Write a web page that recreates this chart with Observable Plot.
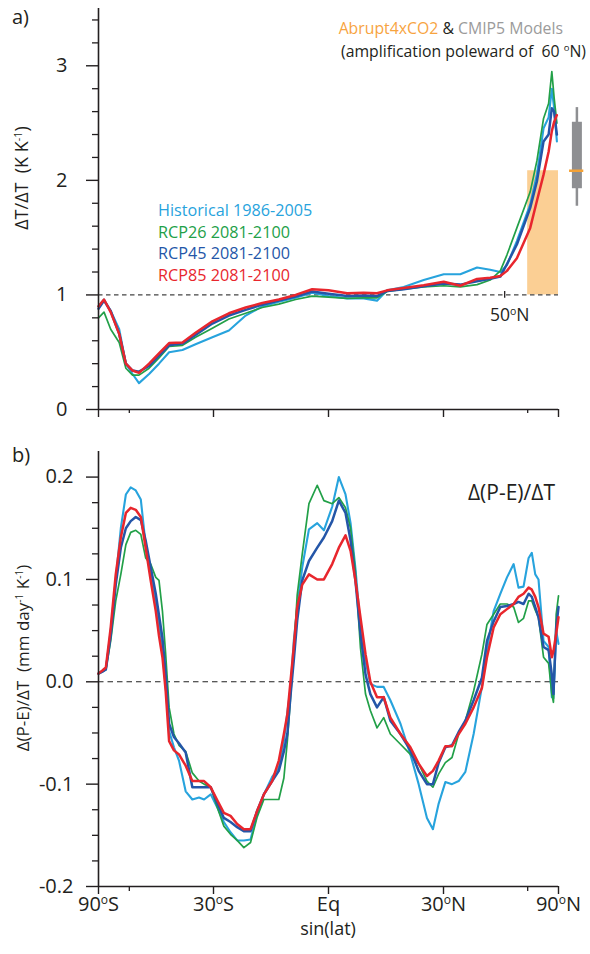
<!DOCTYPE html>
<html><head><meta charset="utf-8">
<script src="https://cdn.jsdelivr.net/npm/d3@7"></script>
<script src="https://cdn.jsdelivr.net/npm/@observablehq/plot@0.6"></script>
<style>
html,body{margin:0;padding:0;background:#fff}
body{width:590px;height:954px;overflow:hidden;position:relative;font-family:"Open Sans",sans-serif}
#a{position:absolute;left:0;top:0}
#b{position:absolute;left:0;top:430px}
</style></head><body>
<div id="a"></div><div id="b"></div>
<script>
// ---------- Panel a: ΔT/ΔT vs sin(lat) ----------
const latA = [-1.0,-0.976,-0.947,-0.91,-0.881,-0.852,-0.824,-0.78,-0.737,-0.693,-0.635,-0.578,-0.505,-0.433,-0.36,-0.288,-0.216,-0.143,-0.071,0.0,0.081,0.153,0.211,0.255,0.327,0.414,0.501,0.573,0.646,0.703,0.747,0.776,0.819,0.877,0.906,0.935,0.957,0.971,0.981,0.993];
const histA  = [0.90,0.96,0.86,0.70,0.40,0.31,0.23,0.31,0.40,0.50,0.52,0.57,0.63,0.69,0.82,0.90,0.94,0.975,1.02,0.99,0.97,0.97,0.95,1.04,1.07,1.13,1.18,1.18,1.24,1.22,1.20,1.26,1.47,1.79,2.05,2.455,2.55,2.80,2.63,2.34];
const rcp26A = [0.80,0.85,0.70,0.585,0.36,0.30,0.30,0.36,0.45,0.55,0.56,0.63,0.71,0.79,0.84,0.89,0.92,0.96,0.99,0.98,0.97,0.975,0.975,1.03,1.05,1.07,1.08,1.07,1.09,1.13,1.21,1.35,1.585,1.90,2.17,2.54,2.67,2.95,2.72,2.50];
const rcp45A = [0.88,0.95,0.86,0.66,0.40,0.34,0.33,0.38,0.47,0.56,0.575,0.65,0.75,0.82,0.87,0.915,0.95,0.985,1.03,1.01,0.99,0.995,0.99,1.035,1.05,1.075,1.10,1.09,1.12,1.14,1.16,1.27,1.44,1.76,1.99,2.34,2.40,2.63,2.60,2.40];
const rcp85A = [0.90,0.96,0.85,0.66,0.40,0.34,0.32,0.40,0.49,0.58,0.585,0.67,0.77,0.84,0.89,0.93,0.96,1.00,1.05,1.04,1.015,1.02,1.015,1.04,1.06,1.085,1.115,1.08,1.14,1.15,1.165,1.21,1.32,1.585,1.82,2.05,2.25,2.43,2.51,2.57];

// Arctic amplification poleward of 60N (sin60 .. sin90)
const amplifLat = [0.866, 1.0];
const abrupt4xCO2 = [2.084];
// CMIP5 models: whisker low, q1, median, q3, whisker high
const cmip5Stats = [1.774, 1.927, 2.084, 2.507, 2.635];
const cmip5Pos = [1.08];
const lat50N = [0.766];

// ---------- Panel b: Δ(P-E)/ΔT vs sin(lat) ----------
const latB = [-1.0,-0.983,-0.968,-0.947,-0.925,-0.903,-0.881,-0.86,-0.838,-0.816,-0.795,-0.773,-0.751,-0.737,-0.722,-0.708,-0.693,-0.672,-0.65,-0.621,-0.592,-0.563,-0.541,-0.512,-0.483,-0.455,-0.426,-0.397,-0.368,-0.339,-0.31,-0.281,-0.245,-0.216,-0.194,-0.179,-0.165,-0.151,-0.136,-0.114,-0.085,-0.049,-0.02,0.016,0.045,0.074,0.096,0.117,0.139,0.161,0.182,0.211,0.24,0.269,0.313,0.356,0.392,0.428,0.454,0.479,0.508,0.537,0.566,0.595,0.631,0.667,0.689,0.718,0.747,0.776,0.805,0.826,0.848,0.87,0.884,0.899,0.913,0.935,0.957,0.971,0.978,0.99,1.0];
const histB  = [0.008,0.010,0.012,0.050,0.100,0.150,0.183,0.190,0.187,0.178,0.134,0.105,0.076,0.055,0.030,-0.005,-0.048,-0.064,-0.077,-0.107,-0.115,-0.113,-0.115,-0.110,-0.123,-0.137,-0.147,-0.155,-0.155,-0.154,-0.129,-0.110,-0.093,-0.084,-0.058,-0.030,-0.006,0.040,0.073,0.112,0.149,0.155,0.148,0.171,0.200,0.183,0.155,0.111,0.054,0.020,-0.002,-0.005,-0.005,-0.018,-0.041,-0.071,-0.100,-0.133,-0.144,-0.119,-0.098,-0.100,-0.097,-0.088,-0.051,-0.005,0.031,0.069,0.086,0.102,0.115,0.092,0.093,0.121,0.126,0.105,0.100,0.040,0.034,-0.015,-0.016,0.050,0.037];
const rcp26B = [0.008,0.010,0.012,0.040,0.079,0.105,0.134,0.146,0.148,0.144,0.121,0.115,0.102,0.099,0.069,0.027,-0.025,-0.051,-0.062,-0.068,-0.089,-0.097,-0.100,-0.103,-0.123,-0.141,-0.149,-0.155,-0.162,-0.157,-0.132,-0.115,-0.115,-0.115,-0.094,-0.058,-0.015,0.030,0.085,0.125,0.174,0.192,0.177,0.174,0.180,0.170,0.150,0.108,0.033,-0.012,-0.028,-0.045,-0.035,-0.051,-0.061,-0.071,-0.080,-0.097,-0.103,-0.090,-0.079,-0.074,-0.051,-0.038,-0.009,0.027,0.056,0.066,0.076,0.076,0.073,0.058,0.062,0.079,0.079,0.070,0.063,0.024,0.018,-0.012,-0.020,0.066,0.084];
const rcp45B = [0.008,0.010,0.012,0.045,0.095,0.131,0.150,0.157,0.161,0.158,0.138,0.112,0.086,0.065,0.043,0.008,-0.041,-0.054,-0.060,-0.069,-0.103,-0.103,-0.103,-0.103,-0.119,-0.133,-0.137,-0.142,-0.146,-0.146,-0.126,-0.110,-0.097,-0.087,-0.068,-0.051,-0.013,0.021,0.060,0.099,0.118,0.131,0.141,0.157,0.177,0.165,0.138,0.099,0.047,0.007,-0.012,-0.025,-0.015,-0.038,-0.051,-0.067,-0.087,-0.100,-0.100,-0.079,-0.064,-0.062,-0.049,-0.038,-0.018,0.004,0.040,0.059,0.073,0.074,0.076,0.078,0.076,0.086,0.083,0.073,0.063,0.034,0.031,0.007,-0.012,0.053,0.073];
const rcp85B = [0.008,0.011,0.014,0.053,0.105,0.141,0.165,0.170,0.168,0.161,0.131,0.099,0.069,0.045,0.024,-0.009,-0.058,-0.067,-0.071,-0.082,-0.097,-0.097,-0.097,-0.103,-0.116,-0.128,-0.131,-0.139,-0.144,-0.144,-0.126,-0.110,-0.097,-0.077,-0.051,-0.032,0.001,0.034,0.073,0.095,0.105,0.100,0.100,0.115,0.131,0.143,0.128,0.099,0.063,0.027,0.000,-0.015,-0.015,-0.035,-0.051,-0.064,-0.080,-0.092,-0.087,-0.077,-0.063,-0.063,-0.051,-0.041,-0.025,-0.006,0.024,0.053,0.066,0.071,0.076,0.083,0.086,0.092,0.090,0.083,0.073,0.047,0.044,0.024,0.030,0.047,0.063];

const seriesNames = ["Historical 1986-2005","RCP26 2081-2100","RCP45 2081-2100","RCP85 2081-2100"];
const xTickValues = [-1,-0.5,0,0.5,1];
const xTickLabels = ["90ºS","30ºS","Eq","30ºN","90ºN"];
const xMinorTicks = [-0.866,0.866];
const yTicksA = [0,1,2,3];
const yTickLabelsA = ["0","1","2","3"];
const yTicksB = [-0.2,-0.1,0,0.1,0.2];
const yTickLabelsB = ["-0.2","-0.1","0.0","0.1","0.2"];

// ---------- styles ----------
const colors = ["#27a3dd","#22a048","#2456a8","#e8262d"];
const widths = [2.1,1.7,2.5,2.5];
const drawOrder = [0,1,2,3];
const axisColor = "#231f20";
const FONT = '"Open Sans", sans-serif';
const minorA = d3.range(1,18).map(i=>i*0.2).filter(v=>Math.abs(v-Math.round(v))>1e-6);
const minorB = d3.range(-7,8).map(i=>i*0.025).filter(v=>Math.abs(v*10-Math.round(v*10))>1e-6);

function rows(lat, arr){ return arr.map((v,j)=>({lat:lat[j], v})); }
function lines(lat, arrs){
  return drawOrder.map(i=>Plot.line(rows(lat, arrs[i]), {x:"lat", y:"v", stroke:colors[i], strokeWidth:widths[i], strokeLinejoin:"round", strokeLinecap:"round"}));
}
function supO(svg, dyPx){
  d3.select(svg).selectAll("text").each(function(){
    const t=this.textContent; if(!t.includes("º")) return;
    const [a,b]=t.split("º"); const s=d3.select(this); s.text(null);
    s.append("tspan").text(a);
    s.append("tspan").attr("dy",-dyPx).attr("font-size","0.6em").text("o");
    s.append("tspan").attr("dy",dyPx).text(b);
  });
}
function addText(svg, x, y, parts, opts={}){
  const t=d3.select(svg).append("text").attr("x",x).attr("y",y)
    .attr("font-family",FONT).attr("font-size",opts.size||16).attr("fill",opts.fill||axisColor)
    .attr("text-anchor",opts.anchor||"start");
  if(opts.rotate) t.attr("transform",`rotate(${opts.rotate},${x},${y})`);
  parts.forEach(p=>{
    const sp=t.append("tspan").text(p.text);
    if(p.fill) sp.attr("fill",p.fill);
    if(p.sup){ sp.attr("font-size","0.6em").attr("dy",-p.sup); }
    if(p.unsup){ sp.attr("dy",p.unsup); }
  });
  return t;
}

// ---------- Panel a ----------
const plotA = Plot.plot({
  width:590, height:430, marginLeft:98, marginRight:32, marginTop:8, marginBottom:21,
  style:{fontFamily:FONT, fontSize:"20px", color:axisColor, background:"#fff"},
  x:{domain:[-1,1]}, y:{domain:[0,3.5]},
  marks:[
    Plot.rect(abrupt4xCO2, {x1:amplifLat[0], x2:amplifLat[1], y1:1, y2:d=>d, fill:"#fbcf94"}),
    Plot.ruleY([1], {x1:-1, x2:1, stroke:"#444", strokeWidth:1.2, strokeDasharray:"4.5,3.5"}),
    ...lines(latA,[histA,rcp26A,rcp45A,rcp85A]),
    Plot.ruleX(cmip5Pos, {y1:cmip5Stats[0], y2:cmip5Stats[4], stroke:"#8e8f92", strokeWidth:2.5}),
    Plot.ruleX(cmip5Pos, {y1:cmip5Stats[1], y2:cmip5Stats[3], stroke:"#8e8f92", strokeWidth:10}),
    Plot.ruleY([cmip5Stats[2]], {x1:cmip5Pos[0]-0.032, x2:cmip5Pos[0]+0.03, stroke:"#f5a236", strokeWidth:2.5}),
    Plot.ruleX(lat50N, {y1:0.97, y2:1.03, stroke:axisColor, strokeWidth:1.3}),
    Plot.text(lat50N, {x:d=>d, y:1, text:()=>"50ºN", dy:20, dx:5, fontSize:17.5, fill:axisColor}),
    Plot.ruleX([-1], {y1:0, y2:3.5, stroke:axisColor, strokeWidth:1.6}),
    Plot.ruleY([0], {x1:-1, x2:1, stroke:axisColor, strokeWidth:1.6}),
    Plot.axisY(yTicksA, {tickSize:12, tickPadding:19, tickFormat:(d,i)=>yTickLabelsA[i], label:null, strokeWidth:1.4}),
    Plot.axisY(minorA, {tickSize:6, fill:"none", label:null, strokeWidth:1.3}),
    Plot.axisX(xTickValues, {tickSize:8, fill:"none", label:null, strokeWidth:1.4}),
    Plot.axisX(xMinorTicks, {tickSize:4, fill:"none", label:null, strokeWidth:1.3})
  ]
});
document.getElementById("a").appendChild(plotA);
const svgA = plotA.tagName.toLowerCase()==="svg" ? plotA : plotA.querySelector("svg");
supO(svgA, 6);
addText(svgA, 12, 24, [{text:"a)"}], {size:20});
addText(svgA, 22, 178, [{text:"ΔT/ΔT  (K K"},{text:"-1",sup:6},{text:")",unsup:6}], {size:18, anchor:"middle", rotate:-90}).attr("dy","0.35em");
seriesNames.forEach((n,i)=>addText(svgA, 158, 216+i*21.5, [{text:n}], {size:16.2, fill:colors[i]}));
addText(svgA, 563, 34, [{text:"Abrupt4xCO2",fill:"#f7a43f"},{text:" & ",fill:axisColor},{text:"CMIP5 Models",fill:"#9b9b9b"}], {size:15.8, anchor:"end"});
addText(svgA, 586, 57, [{text:"(amplification poleward of  60 "},{text:"o",sup:6},{text:"N)",unsup:6}], {size:15.8, anchor:"end"});

// ---------- Panel b ----------
const plotB = Plot.plot({
  width:590, height:524, marginLeft:98, marginRight:32, marginTop:21, marginBottom:68,
  style:{fontFamily:FONT, fontSize:"20px", color:axisColor, background:"#fff"},
  x:{domain:[-1,1]}, y:{domain:[-0.2,0.225]},
  marks:[
    Plot.ruleY([0], {x1:-1, x2:1, stroke:"#222", strokeWidth:1.1, strokeDasharray:"5.5,4"}),
    ...lines(latB,[histB,rcp26B,rcp45B,rcp85B]),
    Plot.ruleX([-1], {y1:-0.2, y2:0.225, stroke:axisColor, strokeWidth:1.6}),
    Plot.ruleY([-0.2], {x1:-1, x2:1, stroke:axisColor, strokeWidth:1.6}),
    Plot.axisY(yTicksB, {tickSize:12, tickPadding:13, tickFormat:(d,i)=>yTickLabelsB[i], label:null, strokeWidth:1.4}),
    Plot.axisY(minorB, {tickSize:6, fill:"none", label:null, strokeWidth:1.3}),
    Plot.axisX(xTickValues, {tickSize:8, tickPadding:2, tickFormat:(d,i)=>xTickLabels[i], label:null, strokeWidth:1.4}),
    Plot.axisX(xMinorTicks, {tickSize:5, fill:"none", label:null, strokeWidth:1.3})
  ]
});
document.getElementById("b").appendChild(plotB);
const svgB = plotB.tagName.toLowerCase()==="svg" ? plotB : plotB.querySelector("svg");
supO(svgB, 7);
addText(svgB, 12, 32, [{text:"b)"}], {size:20});
addText(svgB, 23, 228, [{text:"Δ(P-E)/ΔT  (mm day"},{text:"-1",sup:6},{text:" K",unsup:6},{text:"-1",sup:6},{text:")",unsup:6}], {size:17, anchor:"middle", rotate:-90}).attr("dy","0.35em");
addText(svgB, 555, 70, [{text:"Δ(P-E)/ΔT"}], {size:21, anchor:"end"});
addText(svgB, plotB.scale("x").apply(0), 505, [{text:"sin(lat)"}], {size:18, anchor:"middle"});
</script>
</body></html>
